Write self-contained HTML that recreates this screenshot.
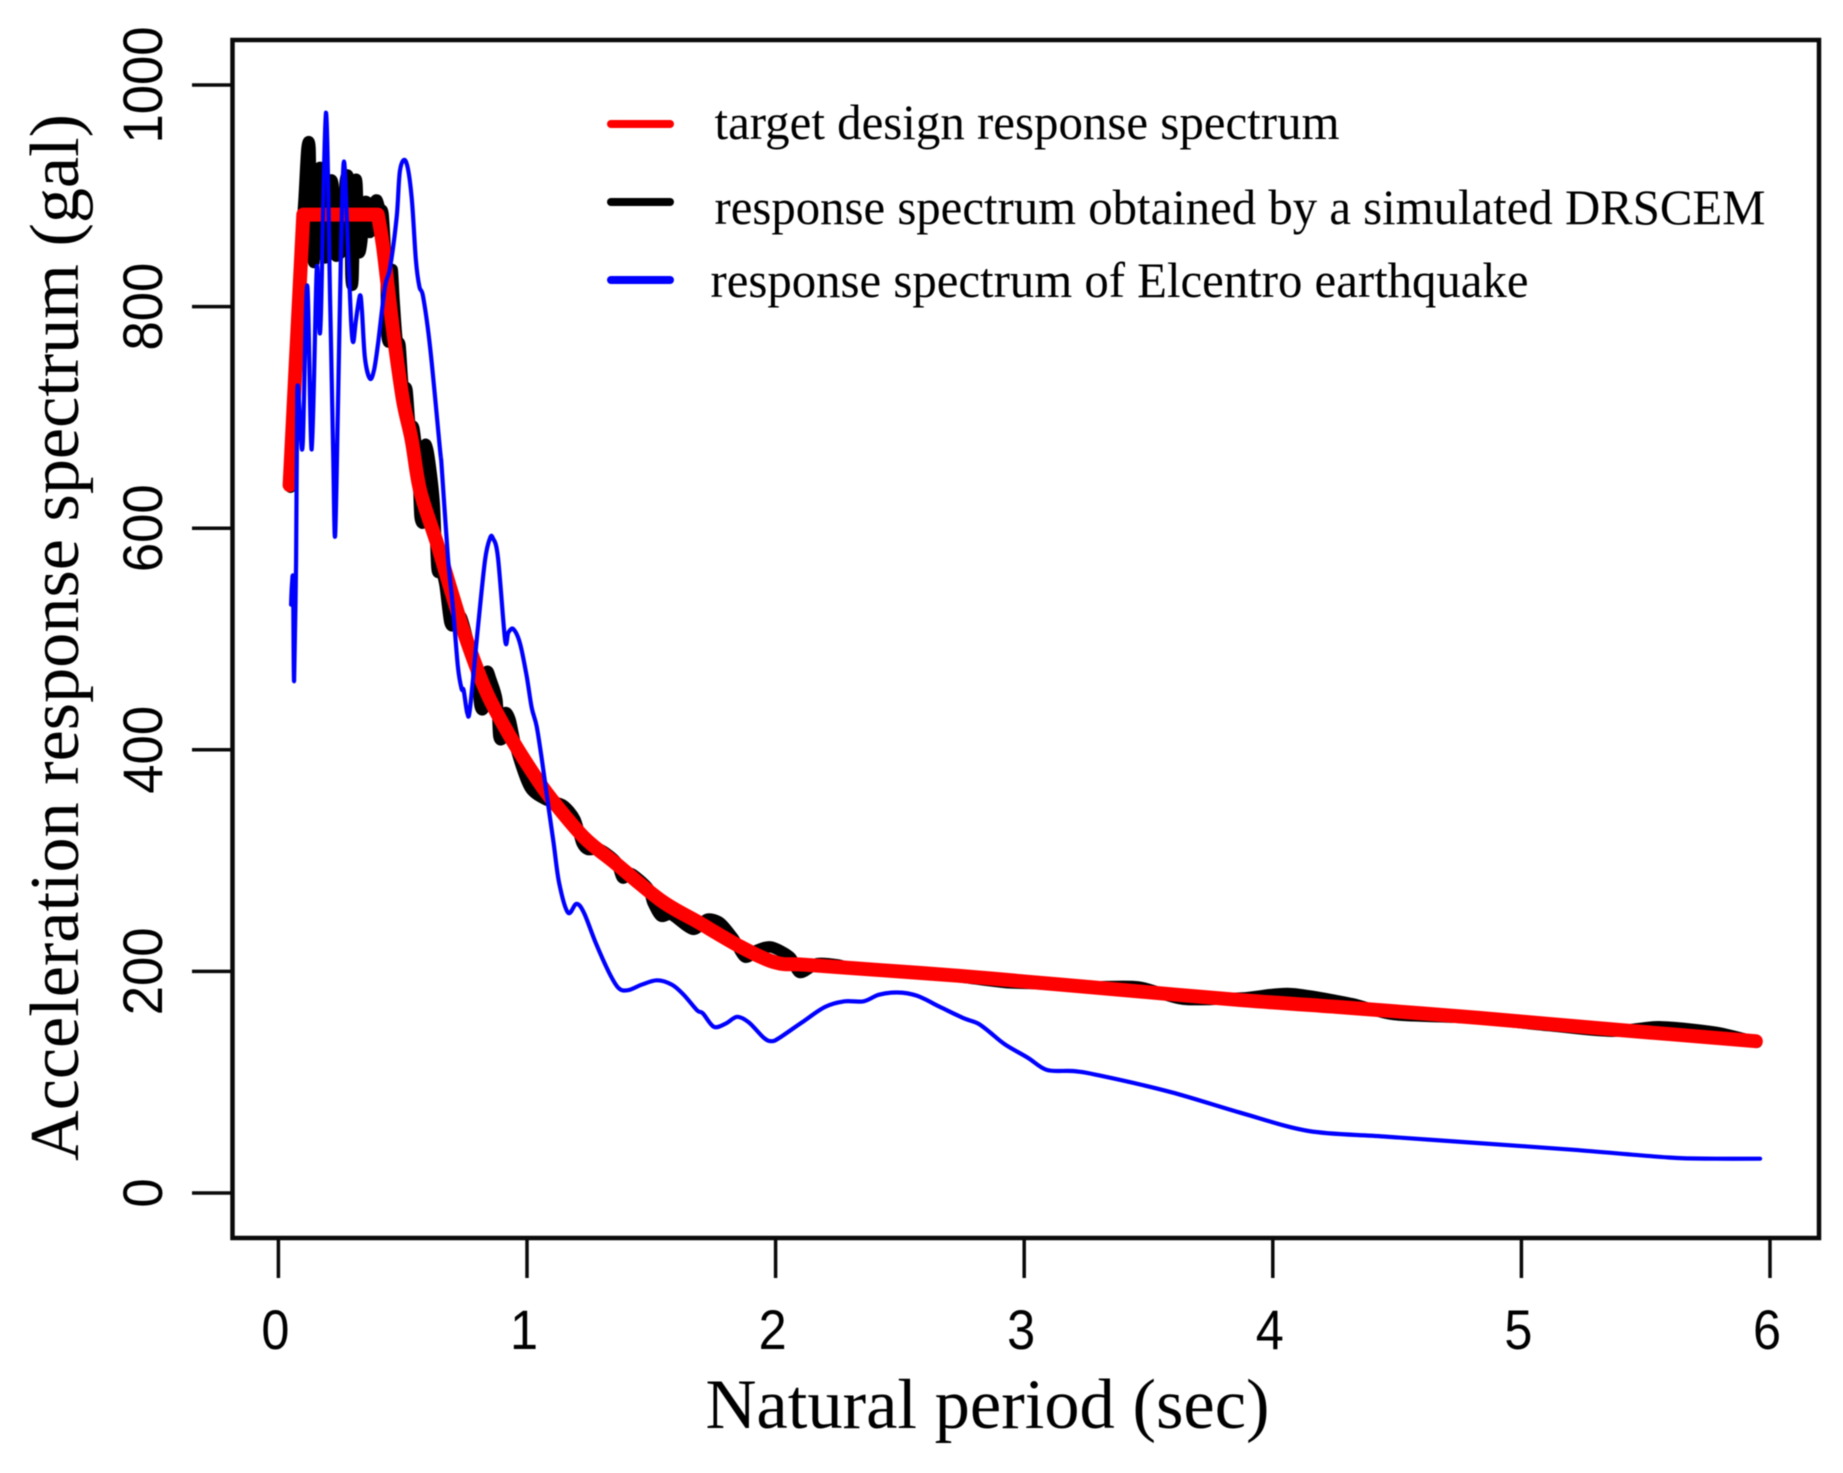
<!DOCTYPE html>
<html lang="en">
<head>
<meta charset="utf-8">
<title>Acceleration response spectrum</title>
<style>
html,body{margin:0;padding:0;background:#fff;}
svg{display:block;filter:blur(0.5px);}
.serif{font-family:"Liberation Serif",serif;fill:#000;}
.sans{font-family:"Liberation Sans",sans-serif;fill:#000;}
</style>
</head>
<body>
<svg id="chart" xmlns="http://www.w3.org/2000/svg" width="1843" height="1473" viewBox="0 0 1843 1473">
  <rect x="0" y="0" width="1843" height="1473" fill="#fff"/>
  <g id="series"></g>
  <g id="axes"></g>
  <rect x="232.5" y="40" width="1586.5" height="1198" fill="none" stroke="#0a0a0a" stroke-width="4.5"/>
  <text class="serif" x="705.5" y="1428" font-size="71" textLength="564" lengthAdjust="spacingAndGlyphs">Natural period (sec)</text>
  <text class="serif" transform="translate(78,1161) rotate(-90)" font-size="70" textLength="1047" lengthAdjust="spacingAndGlyphs">Acceleration response spectrum (gal)</text>
  <g>
    <line x1="611" x2="670" y1="124" y2="124" stroke="#ff0000" stroke-width="8" stroke-linecap="round"/>
    <text class="serif" x="714.5" y="139" font-size="50" textLength="625" lengthAdjust="spacingAndGlyphs">target design response spectrum</text>
    <line x1="611" x2="670" y1="202" y2="202" stroke="#000" stroke-width="8" stroke-linecap="round"/>
    <text class="serif" x="714.5" y="224" font-size="50" textLength="1051" lengthAdjust="spacingAndGlyphs">response spectrum obtained by a simulated DRSCEM</text>
    <line x1="611" x2="670" y1="280" y2="280" stroke="#0000ff" stroke-width="8" stroke-linecap="round"/>
    <text class="serif" x="710.5" y="297" font-size="50" textLength="818" lengthAdjust="spacingAndGlyphs">response spectrum of Elcentro earthquake</text>
  </g>
</svg>
<script>
var xTickValues = [0, 1, 2, 3, 4, 5, 6];
var yTickValues = [0, 200, 400, 600, 800, 1000];

var targetPeriod = [0.045, 0.10, 0.40, 0.421, 0.461, 0.501, 0.536, 0.570, 0.637, 0.690, 0.757, 0.839, 0.932, 1.024, 1.093, 1.229, 1.354, 1.539, 1.692, 1.861, 2.0, 2.122, 2.432, 2.738, 3.047, 3.305, 3.876, 4.258, 4.829, 5.4, 5.943];
var targetAccel = [639, 883, 883, 854, 779, 716, 680, 634, 587, 547, 499, 451, 412, 379, 357, 321, 298, 264, 244, 222, 208, 206, 201, 196, 190, 185, 174, 168, 158, 147, 137];

var simulatedPeriod = [0.049, 0.055, 0.063, 0.075, 0.087, 0.103, 0.115, 0.127, 0.131, 0.143, 0.151, 0.160, 0.172, 0.179, 0.192, 0.204, 0.220, 0.228, 0.240, 0.260, 0.268, 0.280, 0.288, 0.292, 0.300, 0.308, 0.316, 0.324, 0.336, 0.344, 0.360, 0.368, 0.385, 0.397, 0.409, 0.421, 0.433, 0.437, 0.453, 0.457, 0.465, 0.477, 0.489, 0.501, 0.517, 0.529, 0.545, 0.562, 0.570, 0.586, 0.588, 0.602, 0.626, 0.638, 0.654, 0.670, 0.690, 0.710, 0.735, 0.763, 0.795, 0.811, 0.827, 0.839, 0.855, 0.879, 0.887, 0.904, 0.912, 0.932, 0.960, 1.012, 1.076, 1.145, 1.193, 1.221, 1.245, 1.294, 1.358, 1.382, 1.402, 1.422, 1.487, 1.507, 1.539, 1.583, 1.668, 1.724, 1.776, 1.829, 1.877, 1.925, 1.982, 2.058, 2.098, 2.167, 2.247, 2.323, 2.432, 2.585, 2.742, 2.923, 3.047, 3.245, 3.458, 3.639, 3.876, 4.069, 4.315, 4.488, 4.794, 5.115, 5.364, 5.553, 5.782, 5.947];
var simulatedAccel = [637, 680, 709, 782, 839, 896, 943, 943, 878, 840, 896, 921, 921, 860, 846, 907, 909, 851, 847, 856, 910, 918, 896, 828, 826, 905, 910, 851, 860, 892, 892, 867, 892, 896, 887, 883, 833, 774, 774, 833, 806, 770, 765, 729, 725, 693, 690, 652, 610, 610, 671, 669, 625, 564, 562, 549, 515, 513, 520, 498, 474, 440, 439, 470, 463, 445, 412, 412, 433, 427, 398, 366, 355, 350, 337, 316, 310, 310, 299, 285, 286, 288, 275, 262, 250, 251, 238, 247, 244, 230, 213, 219, 222, 213, 199, 207, 206, 202, 201, 199, 195, 190, 189, 186, 186, 175, 176, 180, 171, 161, 158, 151, 146, 150, 145, 136];

var elcentroPeriod = [0.051, 0.055, 0.059, 0.063, 0.071, 0.076, 0.087, 0.098, 0.116, 0.134, 0.154, 0.163, 0.171, 0.191, 0.208, 0.220, 0.228, 0.240, 0.252, 0.264, 0.280, 0.292, 0.301, 0.312, 0.328, 0.336, 0.348, 0.368, 0.385, 0.401, 0.429, 0.449, 0.476, 0.489, 0.513, 0.536, 0.553, 0.567, 0.582, 0.610, 0.650, 0.657, 0.682, 0.702, 0.722, 0.737, 0.745, 0.760, 0.771, 0.803, 0.831, 0.851, 0.863, 0.883, 0.912, 0.925, 0.945, 0.972, 0.999, 1.019, 1.039, 1.060, 1.084, 1.107, 1.129, 1.165, 1.199, 1.229, 1.276, 1.330, 1.368, 1.406, 1.461, 1.523, 1.583, 1.630, 1.684, 1.708, 1.752, 1.800, 1.845, 1.892, 1.953, 1.984, 2.015, 2.106, 2.199, 2.277, 2.354, 2.416, 2.492, 2.569, 2.661, 2.754, 2.814, 2.862, 2.923, 3.015, 3.092, 3.200, 3.305, 3.591, 3.876, 4.144, 4.447, 4.829, 5.211, 5.593, 5.782, 5.960];
var elcentroAccel = [531, 551, 550, 462, 571, 723, 698, 677, 819, 671, 833, 788, 792, 975, 806, 671, 593, 716, 851, 931, 851, 788, 768, 788, 810, 797, 754, 735, 743, 767, 818, 835, 881, 923, 931, 899, 842, 818, 809, 764, 671, 655, 574, 529, 475, 455, 454, 433, 438, 511, 571, 591, 591, 574, 499, 506, 509, 496, 466, 438, 421, 391, 352, 316, 280, 253, 261, 253, 226, 199, 185, 183, 188, 192, 188, 179, 165, 162, 150, 153, 159, 154, 140, 137, 140, 154, 168, 173, 173, 179, 181, 178, 168, 158, 153, 145, 134, 122, 111, 110, 106, 91, 72, 56, 51, 45, 39, 32, 31, 31];

var SVG_NS = 'http://www.w3.org/2000/svg';

function xScale(period) {
  return 278.4 + 248.6 * period;
}

function yScale(accel) {
  return 1193 - 1.108 * accel;
}

function pathFor(xs, ys, smoothFrom, k) {
  var px = xs.map(xScale);
  var py = ys.map(yScale);
  var d = 'M' + px[0].toFixed(1) + ' ' + py[0].toFixed(1);
  for (var i = 0; i < px.length - 1; i++) {
    if (i < smoothFrom) {
      d += 'L' + px[i + 1].toFixed(1) + ' ' + py[i + 1].toFixed(1);
      continue;
    }
    var a = Math.max(i - 1, smoothFrom);
    var b = Math.min(i + 2, px.length - 1);
    var c1x = px[i] + (px[i + 1] - px[a]) * k;
    var c1y = py[i] + (py[i + 1] - py[a]) * k;
    var c2x = px[i + 1] - (px[b] - px[i]) * k;
    var c2y = py[i + 1] - (py[b] - py[i]) * k;
    d += 'C' + c1x.toFixed(1) + ' ' + c1y.toFixed(1) + ' ' + c2x.toFixed(1) + ' ' + c2y.toFixed(1) + ' ' + px[i + 1].toFixed(1) + ' ' + py[i + 1].toFixed(1);
  }
  return d;
}

function addLine(parent, xs, ys, color, width, smoothFrom, k) {
  var p = document.createElementNS(SVG_NS, 'path');
  p.setAttribute('d', pathFor(xs, ys, smoothFrom, k));
  p.setAttribute('fill', 'none');
  p.setAttribute('stroke', color);
  p.setAttribute('stroke-width', width);
  p.setAttribute('stroke-linejoin', 'round');
  p.setAttribute('stroke-linecap', 'round');
  parent.appendChild(p);
  return p;
}

var seriesGroup = document.getElementById('series');
var axesGroup = document.getElementById('axes');

var simLine = addLine(seriesGroup, simulatedPeriod, simulatedAccel, '#000000', 11.5, 0, 0.14);



var targetLine = addLine(seriesGroup, targetPeriod, targetAccel, '#ff0000', 14, 2, 0.16);



var elcentroLine = addLine(seriesGroup, elcentroPeriod, elcentroAccel, '#0000ff', 4.2, 0, 0.16);



xTickValues.forEach(function (value) {
  var px = xScale(value);
  var tick = document.createElementNS(SVG_NS, 'line');
  
  
  tick.setAttribute('x1', px);
  tick.setAttribute('x2', px);
  tick.setAttribute('y1', 1238);
  tick.setAttribute('y2', 1278);
  tick.setAttribute('stroke', '#0a0a0a');
  tick.setAttribute('stroke-width', 3.5);
  axesGroup.appendChild(tick);

  var label = document.createElementNS(SVG_NS, 'text');
  
  
  label.setAttribute('class', 'sans');
  label.setAttribute('font-size', 56);
  label.setAttribute('text-anchor', 'middle');
  label.setAttribute('transform', 'translate(' + (px - 3) + ',1349) scale(0.9,1)');
  label.textContent = String(value);
  axesGroup.appendChild(label);
});

yTickValues.forEach(function (value) {
  var py = yScale(value);
  var tick = document.createElementNS(SVG_NS, 'line');
  
  
  tick.setAttribute('x1', 192);
  tick.setAttribute('x2', 232);
  tick.setAttribute('y1', py);
  tick.setAttribute('y2', py);
  tick.setAttribute('stroke', '#0a0a0a');
  tick.setAttribute('stroke-width', 3.5);
  axesGroup.appendChild(tick);

  var label = document.createElementNS(SVG_NS, 'text');
  
  
  label.setAttribute('class', 'sans');
  label.setAttribute('font-size', 56);
  label.setAttribute('text-anchor', 'middle');
  label.setAttribute('transform', 'translate(162,' + py + ') rotate(-90) scale(0.94,1)');
  label.textContent = String(value);
  axesGroup.appendChild(label);
});
</script>
</body>
</html>
